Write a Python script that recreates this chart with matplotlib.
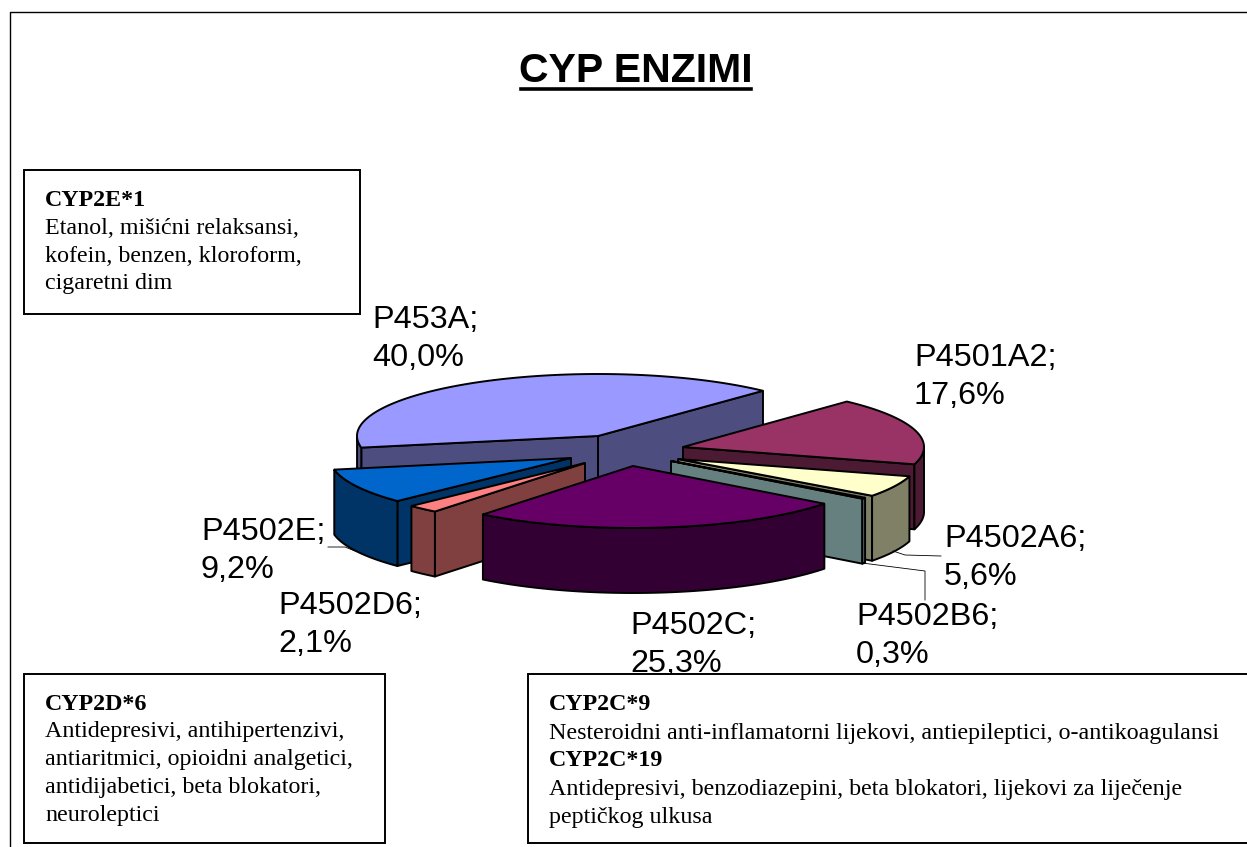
# CYP enzimi - 3D pita napravljena od poligona

import numpy as np
import matplotlib
matplotlib.use("Agg")
import matplotlib.pyplot as plt
from matplotlib.colors import to_rgb
from matplotlib.patches import Polygon, Rectangle

# idu suprotno od kazaljke, od P453A
names = ["P453A", "P4502E", "P4502D6", "P4502C", "P4502B6", "P4502A6", "P4501A2"]
values = [40.0, 9.2, 2.1, 25.3, 0.3, 5.6, 17.6]
colors = ["#9999ff", "#0066cc", "#ff8080", "#660066", "#ccffff", "#ffffcc", "#993366"]
explode_x = [0, -27, -13, 35, 73, 80, 85]
explode_y = [0, 22, 27, 30, 25, 23, 11]
label_x = [372, 201, 278, 630, 856, 944, 914]
label_y = [339, 551, 625, 645, 636, 558, 377]
draw_order = [0, 6, 5, 4, 1, 2, 3]

box_text_1 = ["Etanol, mišićni relaksansi,", "kofein, benzen, kloroform,", "cigaretni dim"]
box_text_2 = ["Antidepresivi, antihipertenzivi,", "antiaritmici, opioidni analgetici,",
              "antidijabetici, beta blokatori,", "neuroleptici"]

cx, cy = 598, 436
rx, ry = 241, 62
depth = 65
start = 46.8
serif = "Liberation Serif"
sans = "Liberation Sans"
fs = 17.3

def ell(t, dx, dy):
    r = np.radians(t)
    return cx + dx + rx * np.cos(r), cy + dy - ry * np.sin(r)

def draw_slice(ax, t0, t1, dx, dy, color):
    dark = tuple(c / 2 for c in to_rgb(color))
    ax0, ay0 = cx + dx, cy + dy
    st = dict(edgecolor="black", linewidth=1.4, joinstyle="round", facecolor=dark)
    # rezne stranice
    if np.cos(np.radians(t0)) > 0:
        x, y = ell(t0, dx, dy)
        ax.add_patch(Polygon([(ax0, ay0), (x, y), (x, y + depth), (ax0, ay0 + depth)], **st))
    if np.cos(np.radians(t1)) < 0:
        x, y = ell(t1, dx, dy)
        ax.add_patch(Polygon([(ax0, ay0), (x, y), (x, y + depth), (ax0, ay0 + depth)], **st))
    # vanjski rub
    ts = np.linspace(t0, t1, 120)
    vis = ts[np.sin(np.radians(ts)) <= 0]
    if len(vis) > 1:
        x, y = ell(vis, dx, dy)
        pts = list(zip(x, y)) + list(zip(x[::-1], y[::-1] + depth))
        ax.add_patch(Polygon(pts, **st))
    # gornja ploha
    x, y = ell(ts, dx, dy)
    top = [(ax0, ay0)] + list(zip(x, y))
    ax.add_patch(Polygon(top, facecolor=color, edgecolor="black", linewidth=1.4))

def text_box(ax, x0, y0, x1, y1):
    ax.add_patch(Rectangle((x0, y0), x1 - x0, y1 - y0, facecolor="white",
                           edgecolor="black", linewidth=1.4, zorder=5))

fig = plt.figure(figsize=(12.47, 8.47), dpi=100)
ax = fig.add_axes([0, 0, 1, 1])
ax.set_xlim(0, 1247)
ax.set_ylim(847, 0)
ax.axis("off")

# okvir
ax.plot([10, 10, 1247], [847, 12, 12], color="black", lw=1.0)

# naslov
ax.text(636, 71, "CYP ENZIMI", family=sans, weight="bold", fontsize=29.5, ha="center", va="center")
ax.plot([521, 751], [89, 89], color="black", lw=2.6)

# pita
angles = start + np.concatenate([[0], np.cumsum(values)]) * 3.6
for i in draw_order:
    draw_slice(ax, angles[i], angles[i + 1], explode_x[i], explode_y[i], colors[i])

# linije do oznaka
ax.plot([328, 345, 355], [547, 547, 551], color="black", lw=0.6)
ax.plot([893, 905, 941], [551, 555, 556], color="black", lw=0.6)
ax.plot([862, 925, 925], [563, 571, 600], color="black", lw=0.6)

for i in range(len(names)):
    s = names[i] + ";\n" + f"{values[i]:.1f}%".replace(".", ",")
    ax.text(label_x[i], label_y[i], s, family=sans, fontsize=23.3, ha="left", va="center",
            linespacing=1.38, zorder=4)

# kutije s tekstom
text_box(ax, 24, 170, 360, 314)
ax.text(45, 200, "CYP2E*1", family=serif, weight="bold", fontsize=fs, va="center", zorder=6)
for k, s in enumerate(box_text_1):
    ax.text(45, 228 + k * 28, s, family=serif, fontsize=fs, va="center", zorder=6)

text_box(ax, 24, 674, 385, 843)
ax.text(45, 704, "CYP2D*6", family=serif, weight="bold", fontsize=fs, va="center", zorder=6)
for k, s in enumerate(box_text_2):
    ax.text(45, 732 + k * 28, s, family=serif, fontsize=fs, va="center", zorder=6)

text_box(ax, 528, 674, 1260, 843)
ax.text(549, 704, "CYP2C*9", family=serif, weight="bold", fontsize=fs, va="center", zorder=6)
ax.text(549, 733, "Nesteroidni anti-inflamatorni lijekovi, antiepileptici, o-antikoagulansi",
        family=serif, fontsize=fs, va="center", zorder=6)
ax.text(549, 761, "CYP2C*19", family=serif, weight="bold", fontsize=fs, va="center", zorder=6)
ax.text(549, 790, "Antidepresivi, benzodiazepini, beta blokatori, lijekovi za liječenje",
        family=serif, fontsize=fs, va="center", zorder=6)
ax.text(549, 818, "peptičkog ulkusa", family=serif, fontsize=fs, va="center", zorder=6)

fig.savefig("out.png", dpi=100)
